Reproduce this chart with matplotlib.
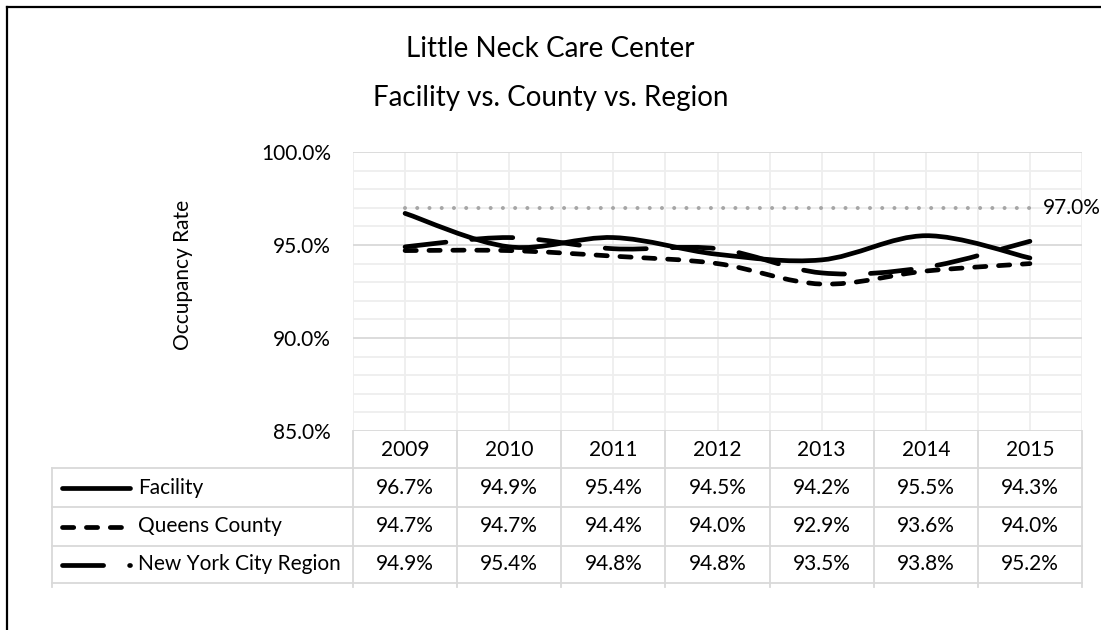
import matplotlib
matplotlib.use("Agg")
import matplotlib.pyplot as plt
from matplotlib.path import Path
from matplotlib.patches import PathPatch
from matplotlib.lines import Line2D
import matplotlib.transforms as mtransforms

plt.rcParams['font.family'] = ['Lato', 'DejaVu Sans']
plt.rcParams['lines.scale_dashes'] = False

years = ['2009', '2010', '2011', '2012', '2013', '2014', '2015']
facility = [96.7, 94.9, 95.4, 94.5, 94.2, 95.5, 94.3]
queens = [94.7, 94.7, 94.4, 94.0, 92.9, 93.6, 94.0]
nyc = [94.9, 95.4, 94.8, 94.8, 93.5, 93.8, 95.2]
target = 97.0
series_names = ['Facility', 'Queens County', 'New York City Region']

W, H = 1101, 630
fs = 15


def fx(x):
    return x / W


def fy(y):
    return 1 - y / H


def smooth_path(xs, ys):
    # Excel-style smoothed line: cubic Bezier with 1/6 tangents
    n = len(xs)
    verts = [(xs[0], ys[0])]
    codes = [Path.MOVETO]
    for i in range(n - 1):
        a = i - 1 if i > 0 else i
        b = i + 2 if i + 2 < n else i + 1
        c1 = (xs[i] + (xs[i + 1] - xs[a]) / 6, ys[i] + (ys[i + 1] - ys[a]) / 6)
        c2 = (xs[i + 1] - (xs[b] - xs[i]) / 6, ys[i + 1] - (ys[b] - ys[i]) / 6)
        verts += [c1, c2, (xs[i + 1], ys[i + 1])]
        codes += [Path.CURVE4] * 3
    return Path(verts, codes)


lw = 3.4
styles = [
    dict(linestyle='solid'),
    dict(linestyle=(0, (8.1, 9.1))),
    dict(linestyle=(0, (29.6, 18.7))),
]

fig = plt.figure(figsize=(W / 100, H / 100), dpi=100)
ax = fig.add_axes([fx(353), fy(431), fx(1082 - 353), (431 - 152) / H])
ax.set_xlim(-0.5, 6.5)
ax.set_ylim(85, 100)
for s in ax.spines.values():
    s.set_visible(False)

# gridlines
for v in range(85, 101):
    major = v % 5 == 0
    ax.axhline(v, color='#d9d9d9' if major else '#eeeeee', lw=1.3, zorder=1)
for k in range(15):
    ax.axvline(-0.5 + k * 0.5, color='#eeeeee', lw=1.3, zorder=0.9)

ax.set_xticks([])
ax.set_yticks([85, 90, 95, 100])
ax.set_yticklabels([f"{v:.1f}%" for v in [85, 90, 95, 100]], fontsize=fs)
ax.tick_params(axis='y', length=0, pad=16)
ax.set_ylabel('Occupancy Rate', fontsize=fs)
ax.yaxis.set_label_coords(fx(193 - 353) / fx(1082 - 353), (431 - 275) / (431 - 152))

xs = list(range(len(years)))
ax.plot([xs[0], xs[-1]], [target, target], color='#a6a6a6', lw=2.9,
        linestyle=(0, (0.01, 8.8)), dash_capstyle='round', zorder=2)
ax.text(xs[-1] + 0.12, target, f"{target:.1f}%", fontsize=fs, va='center', ha='left')

for vals, st in zip([facility, queens, nyc], styles):
    patch = PathPatch(smooth_path(xs, vals), fill=False, edgecolor='black', lw=lw,
                      capstyle='round', joinstyle='round', zorder=3, **st)
    ax.add_patch(patch)

# title
fig.text(0.5, fy(49), 'Little Neck Care Center', fontsize=20, ha='center', va='center')
fig.text(0.5, fy(98), 'Facility vs. County vs. Region', fontsize=20, ha='center', va='center')

# data table
gc = '#d9d9d9'
row_lines = [468, 507, 546, 583]
trans = mtransforms.blended_transform_factory(ax.transData, fig.transFigure)
for y in row_lines:
    fig.add_artist(Line2D([fx(52), fx(1082)], [fy(y), fy(y)], color=gc, lw=1.3))
fig.add_artist(Line2D([fx(52), fx(52)], [fy(468), fy(587)], color=gc, lw=1.3))
for k in range(len(years) + 1):
    fig.add_artist(Line2D([k - 0.5, k - 0.5], [fy(431), fy(587)], color=gc, lw=1.3,
                          transform=trans))

for i, yr in enumerate(years):
    fig.text(i, fy(450), yr, transform=trans, fontsize=fs, ha='center', va='center')

row_centers = [487.5, 526.5, 564.5]
for vals, name, st, yc in zip([facility, queens, nyc], series_names, styles, row_centers):
    fig.add_artist(Line2D([fx(62), fx(129.5)], [fy(yc), fy(yc)], color='black', lw=lw,
                          solid_capstyle='round', dash_capstyle='round', **st))
    fig.text(fx(138), fy(yc), name, fontsize=fs, ha='left', va='center')
    for i, v in enumerate(vals):
        fig.text(i, fy(yc), f"{v:.1f}%", transform=trans, fontsize=fs,
                 ha='center', va='center')

# outer frame of the chart area
fig.add_artist(Line2D([fx(7), fx(7)], [fy(7), 0], color='black', lw=1.6))
fig.add_artist(Line2D([fx(7), 1], [fy(7), fy(7)], color='black', lw=1.6))

fig.savefig('out.png', dpi=100)
